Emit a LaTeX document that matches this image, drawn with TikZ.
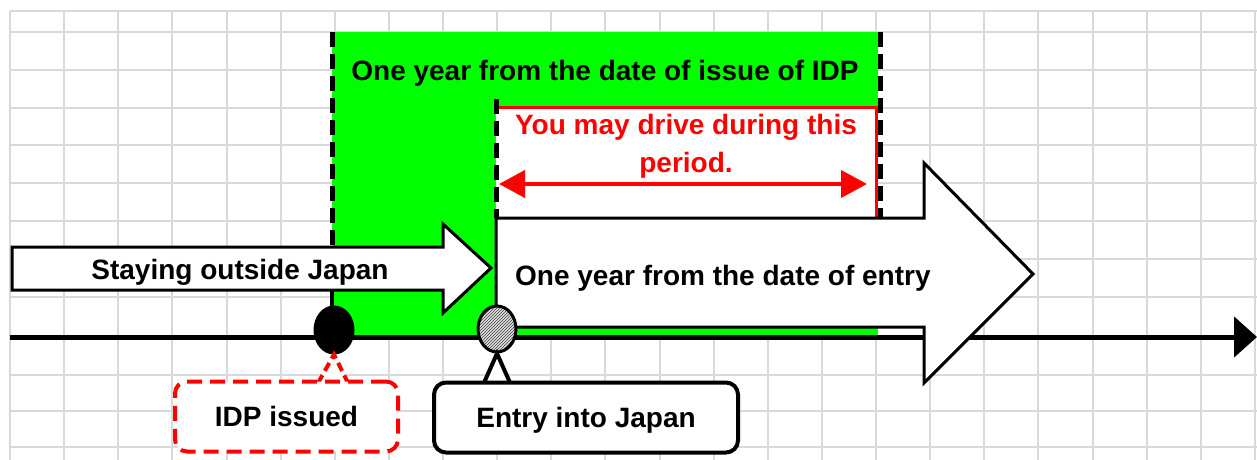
\documentclass[tikz,border=0pt]{standalone}
\usepackage{fontspec}
\setmainfont{Liberation Sans}
\usetikzlibrary{arrows.meta,shapes.geometric,patterns,calc}
\definecolor{xlgreen}{RGB}{0,255,0}
\definecolor{xlred}{RGB}{255,0,0}
\definecolor{xlgrid}{RGB}{217,217,217}
\tikzset{
  gridline/.style={xlgrid, line width=2pt},
  outline/.style={draw=black, line width=3pt, fill=white},
  limit/.style={black, line width=5pt, dash pattern=on 15pt off 7pt},
  lbl/.style={font=\bfseries\fontsize{28}{38}\selectfont, inner sep=0pt},
  dot/.style={ellipse, draw, line width=3pt, minimum width=38pt, minimum height=46pt, inner sep=0pt},
  callout/.style={rectangle, rounded corners=12pt, line width=4pt, fill=white, minimum width=#1, minimum height=70pt, text height=20pt, text depth=0pt, inner sep=0pt, font=\bfseries\fontsize{28}{38}\selectfont},
}
\begin{document}
\begin{tikzpicture}[x=1pt,y=-1pt]
\useasboundingbox (0,0) rectangle (1257,460);
% grid
\foreach \i in {0,...,23}
  \draw[gridline] (10+54.13*\i,11) -- (10+54.13*\i,460);
\foreach \y in {11,32,70,108,145,183,221,259,297,375,411,447}
  \draw[gridline] (10,\y) -- (1257,\y);

% IDP validity
\fill[xlgreen] (332,32) rectangle (878,335);
\fill[white] (496,107) rectangle (876,218);
\draw[xlred, line width=3pt] (496,107) -| (876,218);

% time axis
\coordinate (axisL) at (10,337);
\coordinate (axisR) at (1257,337);
\draw[line width=5pt, -{Triangle[length=23pt,width=40pt]}] (axisL) -- (axisR);

% periods
\draw[outline] (12,247) -- (443,247) -- (443,224) -- (491,268) -- (443,313) -- (443,290) -- (12,290) -- cycle;
\draw[outline] (496,218) -- (924,218) -- (924,163) -- (1033,274) -- (924,383) -- (924,327) -- (496,327) -- cycle;

\draw[limit] (332,32) -- (332,246);
\draw[line width=4pt] (332,291) -- (332,320);
\draw[limit] (496,99) -- (496,218);
\draw[limit] (880,32) -- (880,218);

\coordinate (driveL) at (499,184);
\coordinate (driveR) at (867,184);
\draw[xlred, line width=4pt, {Triangle[length=26pt,width=27pt]}-{Triangle[length=26pt,width=27pt]}] (driveL) -- (driveR);

\node[lbl, anchor=base] (idpyear) at (605,80) {One year from the date of issue of IDP};
\node[lbl, text=xlred, align=center, anchor=north] (drive) at (686,114) {You may drive during this\\period.};
\node[lbl, anchor=base] (staying) at (240,279) {Staying outside Japan};
\node[lbl, anchor=base west] (entryyear) at (515,285) {One year from the date of entry};

% events
\node[dot, fill=black] (issuedot) at (334,330) {};
\node[dot, preaction={fill=gray!25}, pattern=north east lines, pattern color=black!75] (entrydot) at (497,329) {};

\draw[fill=white, draw=xlred, line width=4pt, dash pattern=on 9pt off 5pt]
  ($(issuedot.south |- 0,383)+(-16,0)$) -- (issuedot.south) -- ($(issuedot.south |- 0,383)+(14,0)$);
\node[callout=223pt, draw=xlred, dash pattern=on 15pt off 8pt] (issued) at (286.5,416.5) {IDP issued};

\draw[fill=white, line width=4pt]
  ($(entrydot.south |- 0,385)+(-14,0)$) -- (entrydot.south) -- ($(entrydot.south |- 0,385)+(14,0)$);
\node[callout=304pt, draw=black] (entry) at (586,417.5) {Entry into Japan};
\end{tikzpicture}
\end{document}
